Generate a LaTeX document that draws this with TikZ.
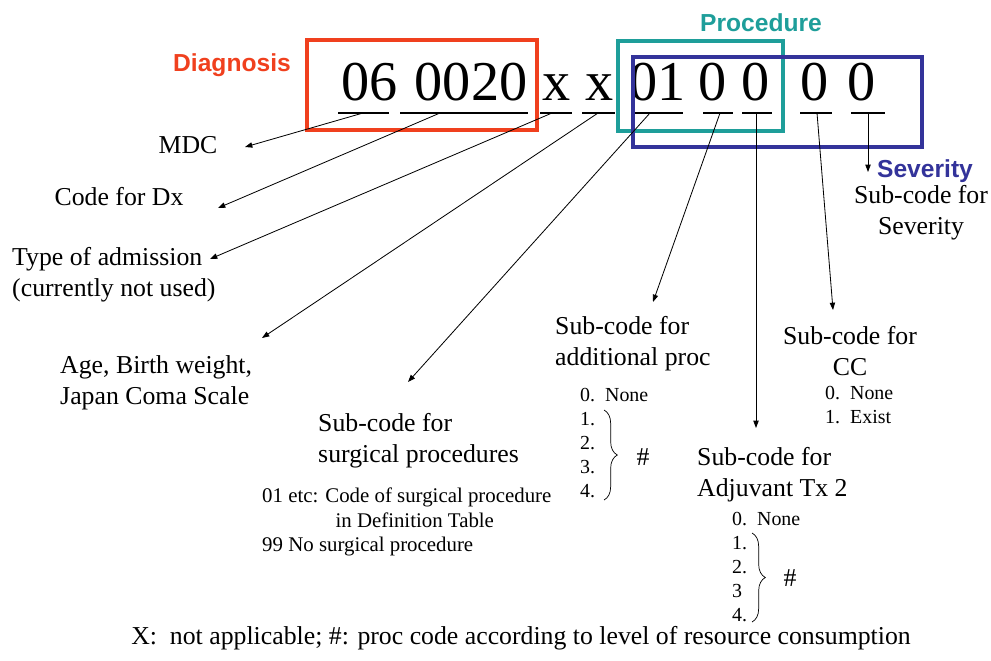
\documentclass[tikz,border=0pt]{standalone}
\usepackage{fontspec}
\setmainfont{Liberation Serif}
\setsansfont{Liberation Sans}
\usetikzlibrary{arrows.meta,decorations.pathreplacing}
\definecolor{dxred}{HTML}{F0401E}
\definecolor{procteal}{HTML}{1E9E9A}
\definecolor{sevblue}{HTML}{33339A}

\begin{document}
\begin{tikzpicture}[
    x=0.03cm, y=-0.03cm,
    every node/.style={inner sep=0pt},
    digit/.style={font=\fontsize{48}{50}\selectfont, anchor=base},
    lbl/.style={font=\fontsize{22}{26.4}\selectfont, align=center},
    lst/.style={font=\fontsize{17}{20.6}\selectfont, align=left, anchor=west},
    head/.style={font=\sffamily\bfseries\fontsize{21}{25}\selectfont, anchor=base},
    frame/.style={line width=3pt},
    uline/.style={line width=2.5pt},
    >={Triangle[length=2.2mm, width=1.6mm]},
    arr/.style={->, line width=0.7pt},
    hashbrace/.style={decorate, decoration={brace, amplitude=4mm}, line width=0.6pt},
]
\useasboundingbox (0,0) rectangle (991,660);

% --- The DPC code, digit groups and their underlines ---
\foreach \txt/\cx/\nm in {06/369.5/g06, 0020/471/g0020, x/556.5/gxa, x/600/gxb, 01/657.5/g01, 0/713/gpa, 0/756/gpb, 0/815/gsa, 0/861.5/gsb}
  \node[digit] (\nm) at (\cx,100) {\txt};
\foreach \ua/\ub in {338/389, 400/528, 540/572, 582/615, 632/683, 703/733, 742/772, 800/832, 851/885}
  \draw[uline] (\ua,113) -- (\ub,113);

% --- Group frames ---
\draw[frame, dxred]    (307,40) rectangle (537,130);
\draw[frame, procteal] (618,41) rectangle (783,131);
\draw[frame, sevblue]  (633,57) rectangle (922,147);

\node[head, text=dxred]    (diag) at (232,71)  {Diagnosis};
\node[head, text=procteal] (proc) at (761,31)  {Procedure};
\node[head, text=sevblue]  (sev)  at (925,177) {Severity};

% --- Left labels ---
\node[lbl] (mdc) at (188,145) {MDC};
\node[lbl] (dx)  at (119,197) {Code for Dx};
\node[lbl, align=left, anchor=west] (adm)  at (12,275)  {Type of admission\\(currently not used)};
\node[lbl, align=left, anchor=west] (age)  at (60,383)  {Age, Birth weight,\\Japan Coma Scale};
\node[lbl, align=left, anchor=west] (surg) at (318,441) {Sub-code for\\surgical procedures};
\node[lst, font=\fontsize{17.8}{21}\selectfont] (surglist) at (262,522) {01 etc: Code of surgical procedure\\\hspace{2.2cm}in Definition Table\\99 No surgical procedure};

% --- Procedure sub-codes ---
\node[lbl, align=left, anchor=west] (addl) at (555,344) {Sub-code for\\additional proc};
\node[lst] (addlist) at (580,443) {0.\enspace None\\1.\\2.\\3.\\4.};
\draw[hashbrace] (604,410) -- (604,500);
\node[lbl] (addhash) at (643,457) {\#};

\node[lbl, align=left, anchor=west] (adj) at (697,475) {Sub-code for\\Adjuvant Tx 2};
\node[lst] (adjlist) at (732,567) {0.\enspace None\\1.\\2.\\3\\4.};
\draw[hashbrace] (752,533) -- (752,622);
\node[lbl] (adjhash) at (790,578) {\#};

% --- Severity sub-codes ---
\node[lbl] (cc) at (850,351) {Sub-code for\\CC};
\node[lst] (cclist) at (825,405) {0.\enspace None\\1.\enspace Exist};
\node[lbl] (sevsub) at (921,213) {Sub-code for\\Severity};

% --- Arrows from the underlines to their labels ---
\foreach \nm/\sx/\tx/\ty in {mdc/363/245/147, dx/440/218/208, adm/552/210/259, age/598/262/338, surg/650/408/382, addl/720/653/302, adj/756/756/428, cc/817/833/310, sev/868/868/172} {
  \coordinate (s-\nm) at (\sx,113);
  \coordinate (t-\nm) at (\tx,\ty);
  \draw[arr] (s-\nm) -- (t-\nm);
}

\node[lbl] (note) at (521,638) {X:\ \ not applicable; \#: proc code according to level of resource consumption};

\end{tikzpicture}
\end{document}
